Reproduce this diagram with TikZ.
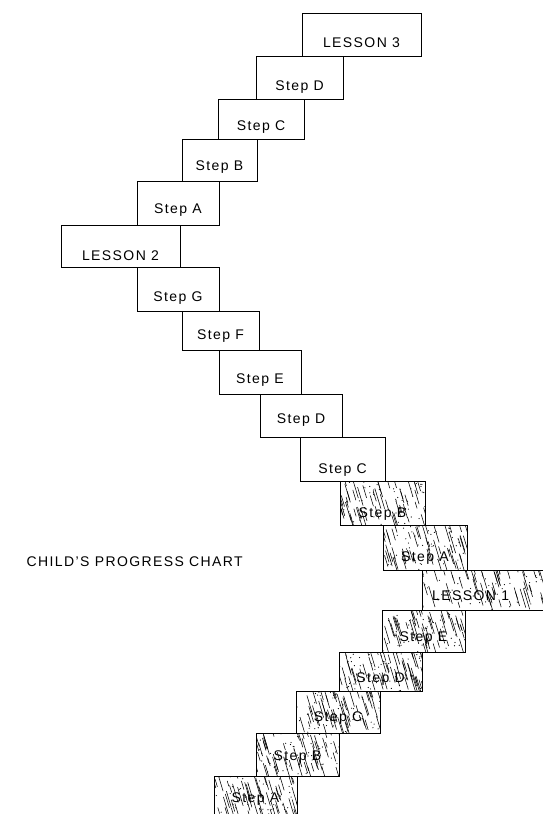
\documentclass[tikz,border=0pt]{standalone}
\usepackage{fontspec}
\setmainfont[LetterSpace=10]{Liberation Sans}
\usetikzlibrary{calc}
\tikzset{
  stairbox/.style={draw=black, line width=1.3pt, inner sep=0pt},
  lab/.style={font=\fontsize{14}{16}\selectfont, inner sep=0pt, text=black},
  hatchline/.style={line width=0.55pt, black},
}
\newcommand\myhatch[4]{%
 \begin{scope}
  \clip (#1,#2) rectangle (#3,#4);
  \foreach \k in {1,...,55}{%
   \pgfmathsetmacro\hx{#1-6+rnd*(#3-#1+6)}%
   \pgfmathsetmacro\hy{#2-8+rnd*(#4-#2)}%
   \pgfmathsetmacro\hl{5+rnd*16}%
   \draw[hatchline] (\hx,\hy) -- ++({0.3*\hl},\hl);
  }
  \foreach \k in {1,...,50}{%
   \pgfmathsetmacro\hx{#1+rnd*(#3-#1)}%
   \pgfmathsetmacro\hy{#2+rnd*(#4-#2)}%
   \fill (\hx,\hy) circle[radius=0.6pt];
  }
 \end{scope}}
% #1 name, #2 x1, #3 y1, #4 x2, #5 y2, #6 baseline, #7 text
\newcommand\stair[7]{%
 \node[stairbox, anchor=north west, minimum width={(#4-#2)*1pt}, minimum height={(#5-#3)*1pt}] (#1) at (#2,#3) {};
 \node[lab, anchor=base] (#1t) at ({(#2+#4)/2},#6) {#7};}
\newcommand\shstair[7]{%
 \myhatch{#2}{#3}{#4}{#5}
 \stair{#1}{#2}{#3}{#4}{#5}{#6}{#7}}
\begin{document}
\begin{tikzpicture}[x=1pt,y=-1pt]
\pgfmathsetseed{7}
\clip (0,0) rectangle (543,814);
\fill[white] (0,0) rectangle (543,814);
% upper (open) staircase
\stair{lthree}{302}{13}{421}{56}{47}{LESSON 3}
\stair{uD}{256}{56}{343}{99}{90}{Step D}
\stair{uC}{218}{99}{304}{139}{130}{Step C}
\stair{uB}{182}{139}{257}{181}{170}{Step B}
\stair{uA}{137}{181}{219}{225}{213}{Step A}
\stair{ltwo}{61}{225}{180}{267}{260}{LESSON 2}
\stair{mG}{137}{267}{219}{311}{301}{Step G}
\stair{mF}{182}{311}{259}{350}{339}{Step F}
\stair{mE}{219}{350}{301}{394}{383}{Step E}
\stair{mD}{260}{394}{342}{437}{423}{Step D}
\stair{mC}{300}{437}{385}{481}{473}{Step C}
% lower (shaded) staircase
\shstair{mB}{340}{481}{425}{525}{517}{Step B}
\shstair{mA}{383}{525}{467}{570}{561}{Step A}
\myhatch{422}{570}{546}{610}
\node[stairbox, anchor=north west, minimum width=124pt, minimum height=40pt] (lone) at (422,570) {};
\node[lab, anchor=base west] (lonet) at (432,600) {LESSON 1};
\shstair{lE}{382}{610}{465}{652}{641}{Step E}
\shstair{lD}{339}{652}{422}{691}{682}{Step D}
\shstair{lC}{296}{691}{380}{733}{721}{Step C}
\shstair{lB}{256}{733}{339}{776}{760}{Step B}
\shstair{lA}{214}{776}{297}{820}{802}{Step A}
% title
\node[lab, anchor=base east] (title) at (243,566) {CHILD'S PROGRESS CHART};
\end{tikzpicture}
\end{document}
